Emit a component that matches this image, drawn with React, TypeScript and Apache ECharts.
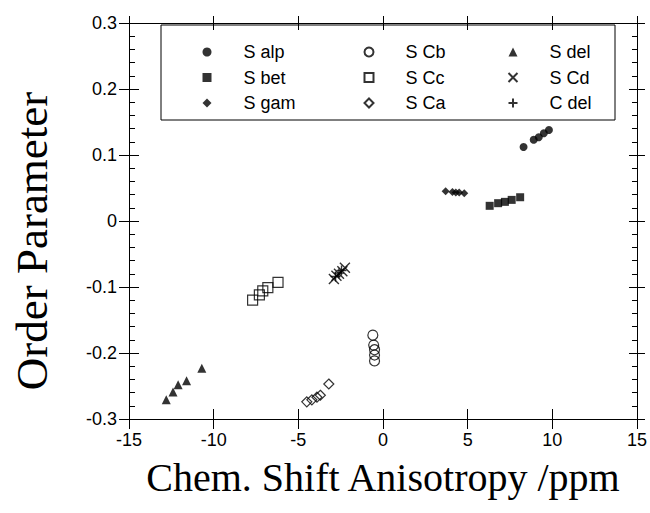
import React, { useEffect, useRef } from "react";
import * as echarts from "echarts";

const xTicks = [-15, -10, -5, 0, 5, 10, 15];
const yTicks = [-0.3, -0.2, -0.1, 0, 0.1, 0.2, 0.3];

const sAlpX = [8.3, 8.9, 9.2, 9.5, 9.8];
const sAlpY = [0.112, 0.123, 0.127, 0.133, 0.138];
const sBetX = [6.3, 6.8, 7.2, 7.6, 8.1];
const sBetY = [0.023, 0.027, 0.029, 0.032, 0.036];
const sGamX = [3.7, 4.1, 4.3, 4.5, 4.8];
const sGamY = [0.045, 0.044, 0.043, 0.043, 0.042];
const sCbX = [-0.6, -0.55, -0.5, -0.5, -0.5];
const sCbY = [-0.173, -0.188, -0.195, -0.203, -0.212];
const sCcX = [-7.7, -7.3, -7.1, -6.8, -6.2];
const sCcY = [-0.12, -0.112, -0.106, -0.101, -0.093];
const sCaX = [-4.5, -4.2, -3.9, -3.7, -3.2];
const sCaY = [-0.274, -0.271, -0.267, -0.264, -0.247];
const sDelX = [-12.8, -12.4, -12.1, -11.6, -10.7];
const sDelY = [-0.271, -0.259, -0.248, -0.242, -0.223];
const sCdX = [-2.9, -2.75, -2.6, -2.4, -2.25];
const sCdY = [-0.088, -0.083, -0.08, -0.076, -0.071];
const cDelX = [-2.8, -2.6, -2.45];
const cDelY = [-0.084, -0.079, -0.075];

const col1 = ["S alp", "S bet", "S gam"];
const col2 = ["S Cb", "S Cc", "S Ca"];
const col3 = ["S del", "S Cd", "C del"];

const zip = (xs: number[], ys: number[]) => xs.map((x, i) => [x, ys[i]]);

const SANS = "'Liberation Sans', Arial, Helvetica, sans-serif";
const SERIF = "'Liberation Serif', 'Times New Roman', serif";

const CROSS = "path://M0,0L10,10M0,10L10,0";
const PLUS = "path://M5,0L5,10M0,5L10,5";

export default function App() {
  const ref = useRef<HTMLDivElement>(null);
  useEffect(() => {
    document.body.style.margin = "0";
    document.body.style.overflow = "hidden";
    if (!ref.current) return;
    const chart = echarts.init(ref.current, null, { renderer: "svg" });

    const filled = { color: "#000" };
    const open = { color: "rgba(255,255,255,0)", borderColor: "#000", borderWidth: 1.2 };
    const stroke = { color: "rgba(255,255,255,0)", borderColor: "#000", borderWidth: 1.4 };

    const mk = (name: string, xs: number[], ys: number[], symbol: string, size: number, itemStyle: any) => ({
      type: "scatter",
      name,
      xAxisIndex: 0,
      yAxisIndex: 0,
      symbol,
      symbolSize: size,
      itemStyle,
      data: zip(xs, ys),
    });

    const xBase = {
      type: "value",
      min: -15,
      max: 15,
      interval: 5,
      splitLine: { show: false },
    };
    const yBase = {
      type: "value",
      min: -0.3,
      max: 0.3,
      interval: 0.1,
      splitLine: { show: false },
    };
    const line = { show: true, onZero: false, lineStyle: { color: "#000", width: 1 } };
    const noLine = { show: false, onZero: false };
    const noLabel = { show: false };

    const legendCommon = {
      orient: "vertical",
      itemWidth: 9,
      itemHeight: 9,
      itemGap: 7.5,
      selectedMode: false,
      symbolKeepAspect: true,
      top: 43,
      padding: 0,
      textStyle: { fontFamily: SANS, fontSize: 18, color: "#000", lineHeight: 18, padding: [0, 0, 0, 27] },
    };

    const option: any = {
      animation: false,
      backgroundColor: "#fff",
      grid: { left: 129, right: 11, top: 23, bottom: 94 },
      xAxis: [
        {
          ...xBase,
          position: "bottom",
          axisLine: line,
          axisTick: { show: true, inside: false, length: 10, lineStyle: { color: "#000" } },
          axisLabel: {
            show: true,
            margin: 12,
            fontFamily: SANS,
            fontSize: 18,
            color: "#000",
            formatter: (v: number) => String(Math.round(v)),
          },
          name: "Chem. Shift Anisotropy /ppm",
          nameLocation: "middle",
          nameGap: 38,
          nameTextStyle: { fontFamily: SERIF, fontSize: 40, color: "#000" },
        },
        {
          ...xBase,
          position: "bottom",
          axisLine: noLine,
          axisTick: { show: true, inside: true, length: 10, lineStyle: { color: "#000" } },
          axisLabel: noLabel,
        },
        {
          ...xBase,
          position: "top",
          axisLine: line,
          axisTick: { show: true, inside: true, length: 7, lineStyle: { color: "#000" } },
          axisLabel: noLabel,
        },
        {
          ...xBase,
          position: "top",
          axisLine: noLine,
          axisTick: { show: true, inside: false, length: 7, lineStyle: { color: "#000" } },
          axisLabel: noLabel,
        },
      ],
      yAxis: [
        {
          ...yBase,
          position: "left",
          axisLine: line,
          axisTick: { show: true, inside: false, length: 10, lineStyle: { color: "#000" } },
          axisLabel: {
            show: true,
            margin: 12,
            fontFamily: SANS,
            fontSize: 18,
            color: "#000",
            formatter: (v: number) => {
              const r = Math.round(v * 10) / 10;
              return r === 0 ? "0" : r.toFixed(1);
            },
          },
          name: "Order Parameter",
          nameLocation: "middle",
          nameGap: 75,
          nameTextStyle: { fontFamily: SERIF, fontSize: 45, color: "#000", padding: [0, 40, 0, 0] },
        },
        {
          ...yBase,
          position: "left",
          axisLine: noLine,
          axisTick: { show: true, inside: true, length: 10, lineStyle: { color: "#000" } },
          minorTick: { show: true, splitNumber: 5, length: 6, lineStyle: { color: "#000" } },
          axisLabel: noLabel,
        },
        {
          ...yBase,
          position: "right",
          axisLine: line,
          axisTick: { show: true, inside: true, length: 8, lineStyle: { color: "#000" } },
          minorTick: { show: true, splitNumber: 5, length: 5, lineStyle: { color: "#000" } },
          axisLabel: noLabel,
        },
        {
          ...yBase,
          position: "right",
          axisLine: noLine,
          axisTick: { show: true, inside: false, length: 8, lineStyle: { color: "#000" } },
          axisLabel: noLabel,
        },
      ],
      legend: [
        { ...legendCommon, left: 202.5, data: col1 },
        { ...legendCommon, left: 363.5, data: col2 },
        { ...legendCommon, left: 507.5, data: col3 },
      ],
      graphic: [
        {
          type: "rect",
          shape: { x: 161, y: 25, width: 454, height: 95 },
          style: { fill: "none", stroke: "#000", lineWidth: 1 },
          silent: true,
          z: 10,
        },
      ],
      series: [
        mk("S alp", sAlpX, sAlpY, "circle", 8, filled),
        mk("S bet", sBetX, sBetY, "rect", 8, filled),
        mk("S gam", sGamX, sGamY, "diamond", 8, filled),
        mk("S Cb", sCbX, sCbY, "circle", 10, open),
        mk("S Cc", sCcX, sCcY, "rect", 10, open),
        mk("S Ca", sCaX, sCaY, "diamond", 10, open),
        mk("S del", sDelX, sDelY, "triangle", 9, filled),
        mk("S Cd", sCdX, sCdY, CROSS, 10, stroke),
        mk("C del", cDelX, cDelY, PLUS, 10, stroke),
      ],
    };

    chart.setOption(option);
    return () => chart.dispose();
  }, []);

  return <div ref={ref} style={{ width: 650, height: 513 }} />;
}
